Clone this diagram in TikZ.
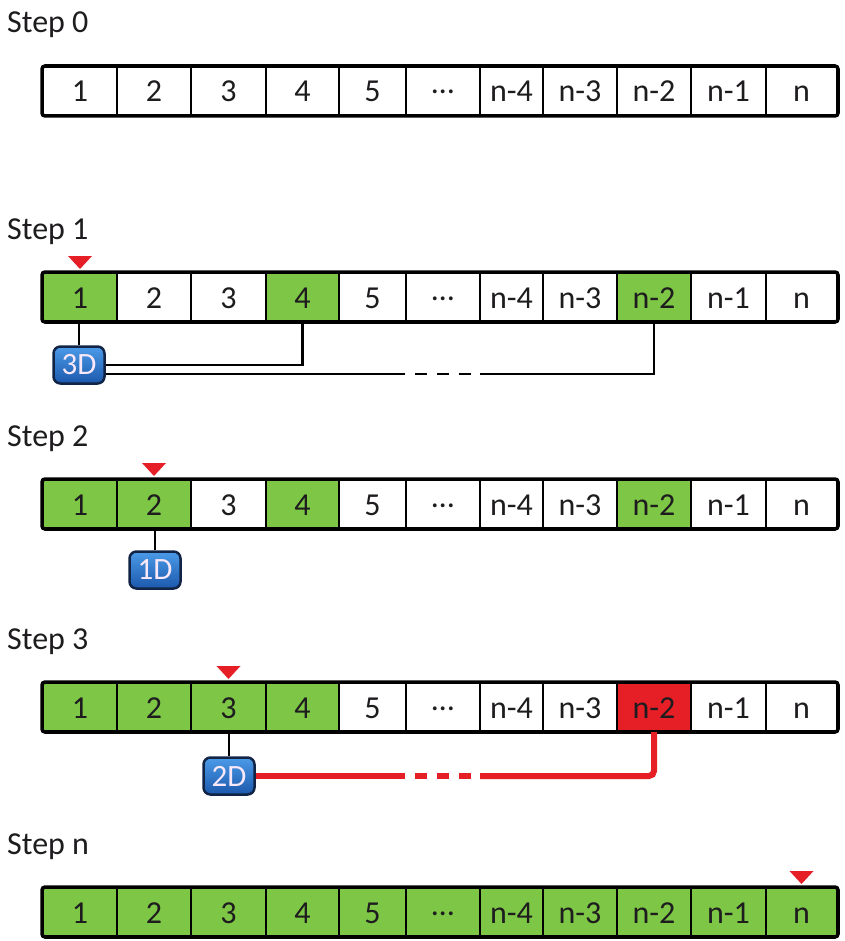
\documentclass[tikz,border=0pt]{standalone}
\usepackage{fontspec}
\setmainfont{Carlito}
\definecolor{cgreen}{RGB}{125,198,70}
\definecolor{cred}{RGB}{230,30,38}
\definecolor{ctext}{RGB}{30,28,30}
\definecolor{boxtop}{RGB}{75,155,232}
\definecolor{boxbot}{RGB}{28,88,172}
\definecolor{boxborder}{RGB}{18,36,70}
\definecolor{boxtext}{RGB}{248,232,248}
\colorlet{cf0}{white}
\colorlet{cf1}{cgreen}
\colorlet{cf2}{cred}
\newcommand\middots{\raisebox{8pt}{\textellipsis}}
\begin{document}
\begin{tikzpicture}[x=1pt,y=-1pt,
  cell/.style={draw=black, line width=2pt, inner sep=0pt, minimum height=48pt,
    text height=22pt, text depth=0pt, text=ctext, font=\fontsize{32}{32}\selectfont},
  outer/.style={draw=black, line width=3.5pt, rounded corners=3pt},
  steplabel/.style={font=\fontsize{32}{32}\selectfont, text=ctext, inner sep=0pt, anchor=base west},
  dbox/.style={draw=boxborder, line width=2.5pt, rounded corners=7pt, minimum width=51pt,
    minimum height=37pt, inner sep=0pt, top color=boxtop, bottom color=boxbot,
    text=boxtext, font=\fontsize{31}{31}\selectfont},
  conn/.style={draw=black, line width=2.3pt},
  redconn/.style={draw=cred, line width=6pt},
  marker/.style={fill=cred}
]
\useasboundingbox (0,0) rectangle (844,941);
\fill[white] (0,0) rectangle (844,941);

% step labels
\node[steplabel] (l0) at (7,33) {Step 0};
\node[steplabel] (l1) at (7,239) {Step 1};
\node[steplabel] (l2) at (7,446) {Step 2};
\node[steplabel] (l3) at (7,649) {Step 3};
\node[steplabel] (l4) at (7,854) {Step n};

% rows of cells
\foreach \r/\ty/\codes in {0/67/{0,0,0,0,0,0,0,0,0,0,0},
                           1/273/{1,0,0,1,0,0,0,0,1,0,0},
                           2/480/{1,1,0,1,0,0,0,0,1,0,0},
                           3/683/{1,1,1,1,0,0,0,0,2,0,0},
                           4/888/{1,1,1,1,1,1,1,1,1,1,1}} {
  \foreach \i/\xl/\xr/\t in {1/43/117/1, 2/117/191/2, 3/191/266/3, 4/266/339/4,
      5/339/406/5, 6/406/480/\middots, 7/480/543/n-4, 8/543/617/n-3,
      9/617/691/n-2, 10/691/766/n-1, 11/766/837/n} {
    \pgfmathtruncatemacro\k{{\codes}[\i-1]}
    \node[cell, fill=cf\k, minimum width={(\xr-\xl)*1pt}] (r\r c\i) at ({(\xl+\xr)/2}, \ty+24) {\t};
  }
  \draw[outer] (r\r c1.north west) rectangle (r\r c11.south east);
}

% markers
\fill[marker] (r1c1.north) ++(0,-3) -- ++(-12,-13) -- ++(24,0) -- cycle;
\fill[marker] (r2c2.north) ++(0,-3) -- ++(-12,-13) -- ++(24,0) -- cycle;
\fill[marker] (r3c3.north) ++(0,-3) -- ++(-12,-13) -- ++(24,0) -- cycle;
\fill[marker] (r4c11.north) ++(0,-3) -- ++(-12,-13) -- ++(24,0) -- cycle;

% step 1
\node[dbox] (b3) at (79,365) {3D};
\draw[conn] (r1c1.south -| b3.north) -- (b3.north);
\draw[conn] (b3.east) -| (r1c4.south);
\coordinate (d1s) at (405,374);
\coordinate (d1e) at (480,374);
\draw[conn] (b3.east |- d1s) -- (d1s);
\draw[conn, dash pattern=on 12pt off 10pt, dash phase=12pt] (d1s) -- (d1e);
\draw[conn] (d1e) -| (r1c9.south);

% step 2
\node[dbox] (b1) at (155,570) {1D};
\draw[conn] (r2c2.south -| b1.north) -- (b1.north);

% step 3
\node[dbox] (b2) at (229,776) {2D};
\draw[conn] (r3c3.south -| b2.north) -- (b2.north);
\coordinate (d3s) at (405,776);
\coordinate (d3e) at (480,776);
\draw[redconn] (b2.east) -- (d3s);
\draw[redconn, dash pattern=on 12pt off 10pt, dash phase=12pt] (d3s) -- (d3e);
\draw[redconn, rounded corners=5pt] (d3e) -| (r3c9.south);
\end{tikzpicture}
\end{document}
